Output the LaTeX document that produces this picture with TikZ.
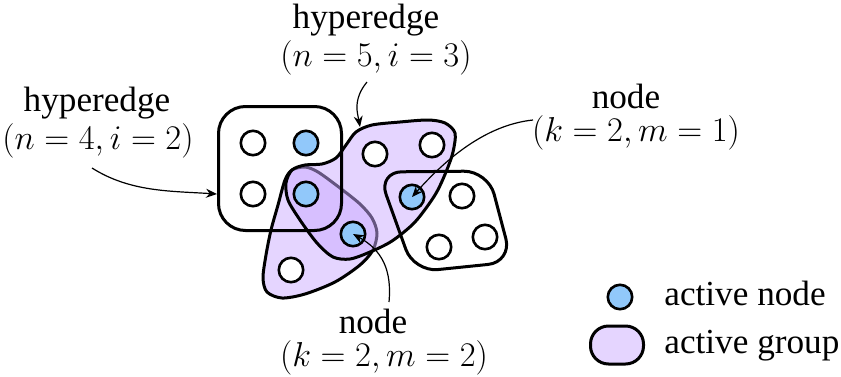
\documentclass[tikz,border=0pt]{standalone}
\usepackage[no-math]{fontspec}
\setmainfont{Liberation Serif}
\usetikzlibrary{arrows.meta}

\definecolor{activeblue}{RGB}{145,200,250}
\definecolor{grouplight}{RGB}{229,213,255}
\definecolor{groupdark}{RGB}{203,171,255}

\newcommand{\txtsz}{\fontsize{17.6}{21}\selectfont}
\newcommand{\mathsz}{\fontsize{16.6}{20}\selectfont}

\begin{document}
\begin{tikzpicture}[x=0.5pt,y=-0.5pt,
  vertex/.style={circle,draw,line width=1.3pt,minimum size=12.2pt,inner sep=0pt,fill=white},
  active/.style={vertex,fill=activeblue},
  edgeline/.style={line width=1.5pt,line join=round},
  pointer/.style={line width=0.6pt,-{Stealth[length=5.5pt,width=4.5pt]}},
  lbl/.style={anchor=base,inner sep=0pt,font=\txtsz},
  mlbl/.style={anchor=base,inner sep=0pt,font=\mathsz}]

\useasboundingbox (0,0) rectangle (841,376);

% Draw lower active group
\draw[edgeline,fill=grouplight] plot[smooth cycle] coordinates {
  (292,170) (305,167) (318,172) (340,188) (360,204) (372,218) (377,233)
  (373,250) (360,265) (335,282) (305,294) (282,298) (267,292) (263,278)
  (266,255) (271,230) (278,205) (285,180)};

% Draw hyperedge with five nodes
\draw[edgeline,fill=groupdark,fill opacity=0.5] plot[smooth cycle] coordinates {
  (292,170) (305,165) (322,164) (336,158) (346,145) (356,132) (372,125)
  (400,122) (428,120) (445,123) (455,133) (453,152) (446,172) (435,195)
  (415,222) (392,241) (370,252) (350,259) (333,257) (317,243) (300,220)
  (288,200) (286,183)};
\coordinate (atop) at (360,127);

% Draw square hyperedge
\node[draw,edgeline,rounded corners=13.5pt,minimum width=61.5pt,minimum height=62pt] (sq) at (280,168.5) {};

% Draw tilted hyperedge
\draw[edgeline,rounded corners=12pt] (378,172) -- (488,171) -- (512,262) -- (414,272) -- cycle;

% Draw nodes
\node[vertex] (v1) at (253,143) {};
\node[active] (v2) at (306,143) {};
\node[vertex] (v3) at (253,194) {};
\node[active] (v4) at (306,194) {};
\node[vertex] (v5) at (375,154) {};
\node[vertex] (v6) at (432,145) {};
\node[active] (v7) at (412,197) {};
\node[active] (v8) at (353,234) {};
\node[vertex] (v9) at (291,270) {};
\node[vertex] (v10) at (462,196) {};
\node[vertex] (v11) at (439,247) {};
\node[vertex] (v12) at (485,237) {};

% Draw labels
\node[lbl] (he5) at (366,28) {hyperedge};
\node[mlbl] (he5m) at (376,66) {$(n=5,i=3)$};
\node[lbl] (he4) at (97,111) {hyperedge};
\node[mlbl] (he4m) at (98,149) {$(n=4,i=2)$};
\node[lbl] (nd1) at (626,108) {node};
\node[mlbl] (nd1m) at (636,141) {$(k=2,m=1)$};
\node[lbl] (nd2) at (373,333) {node};
\node[mlbl] (nd2m) at (384,366) {$(k=2,m=2)$};

% Draw pointers
\coordinate (he5tail) at (367,82);
\coordinate (he4tail) at (92,168);
\coordinate (nd1tail) at (533,120);
\coordinate (nd2tail) at (389,302);
\draw[pointer] (he5tail) .. controls (352,100) and (358,115) .. (atop);
\draw[pointer] (he4tail) .. controls (130,192) and (170,191) .. (sq.west |- v3);
\draw[pointer] (nd1tail) .. controls (485,125) and (445,160) .. (v7.center);
\draw[pointer] (nd2tail) .. controls (392,270) and (382,250) .. (v8.center);

% Draw legend
\node[active] (legnode) at (620,297) {};
\node[draw,edgeline,fill=grouplight,rounded corners=9pt,minimum width=26.5pt,minimum height=19pt] (leggroup) at (617,345) {};
\node[lbl,anchor=base west] (legnodetxt) at (664,305) {active node};
\node[lbl,anchor=base west] (leggrouptxt) at (664,353) {active group};

\end{tikzpicture}
\end{document}
